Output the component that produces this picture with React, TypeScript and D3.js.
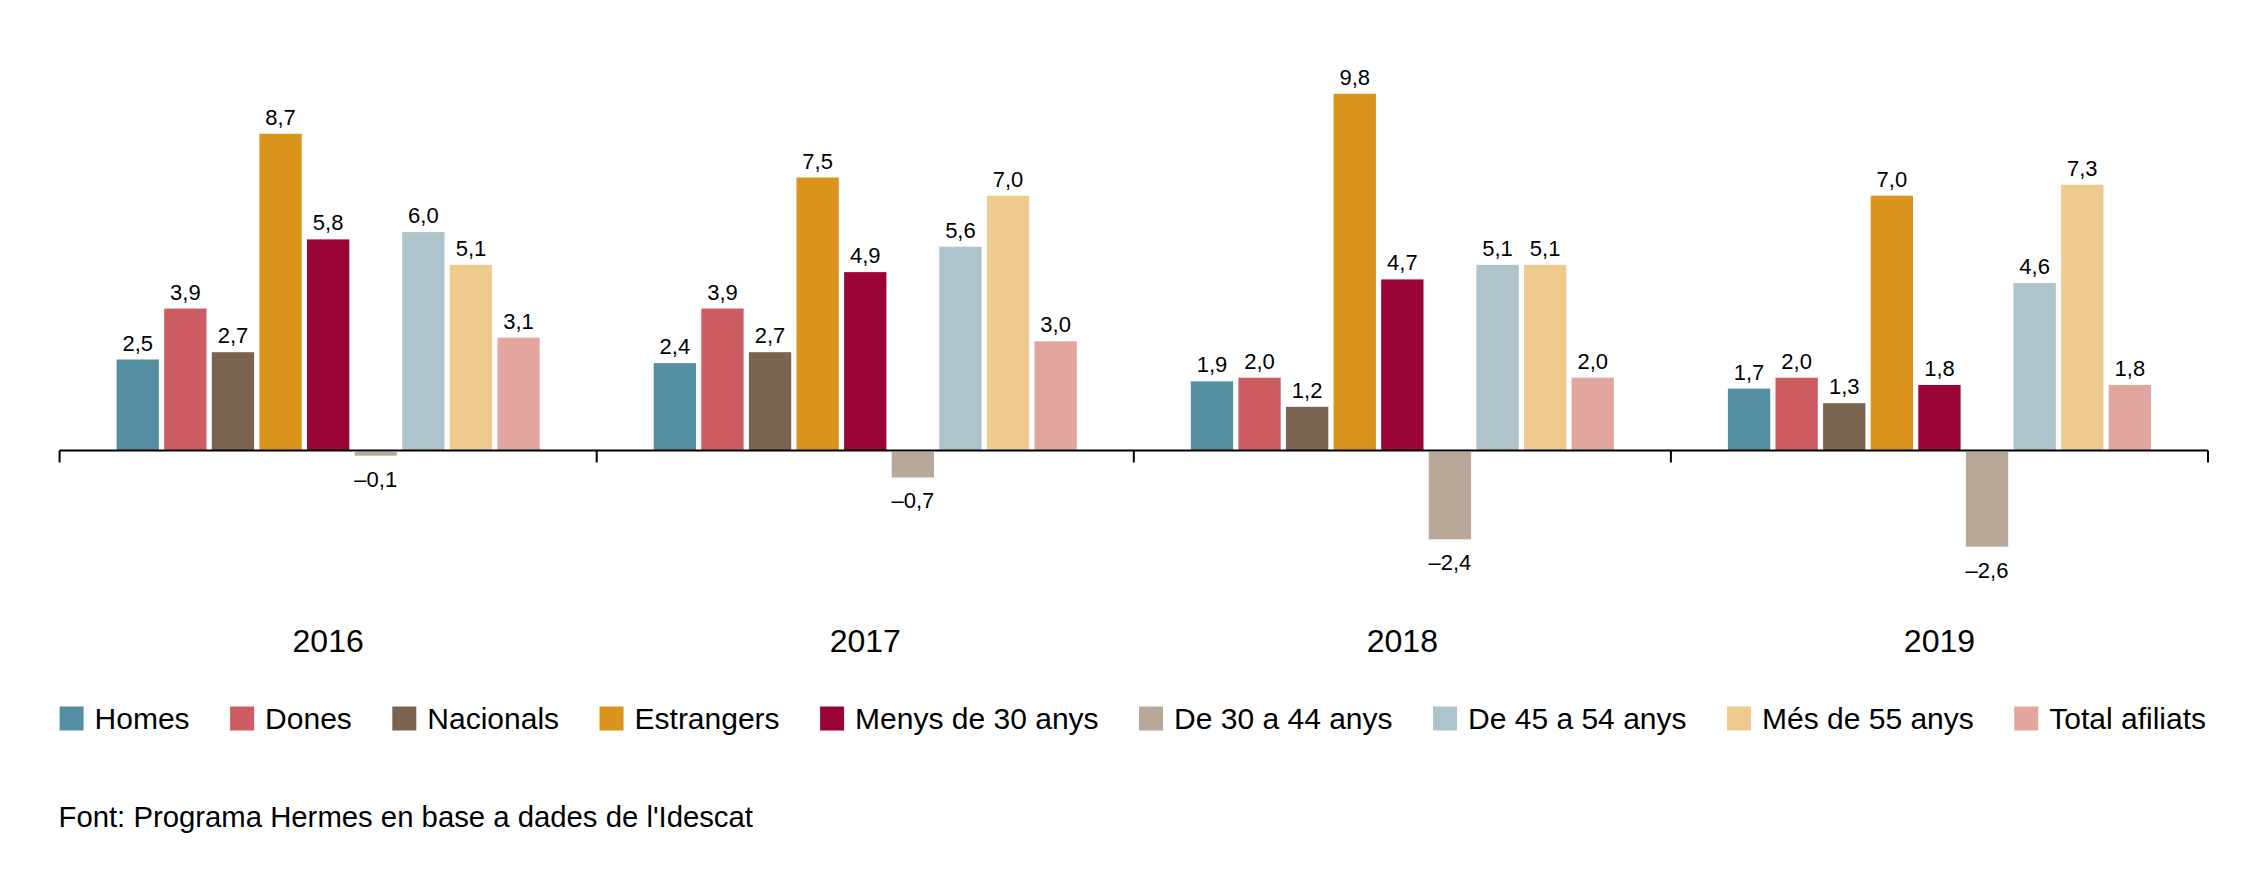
import React from "react";
import * as d3 from "d3";

const years = ["2016", "2017", "2018", "2019"];
const seriesNames = [
  "Homes",
  "Dones",
  "Nacionals",
  "Estrangers",
  "Menys de 30 anys",
  "De 30 a 44 anys",
  "De 45 a 54 anys",
  "Més de 55 anys",
  "Total afiliats",
];
const seriesColors = [
  "#548ea3",
  "#cd5c62",
  "#7a6450",
  "#da931b",
  "#9a0338",
  "#b8a898",
  "#afc3cc",
  "#efca8f",
  "#e2a69f",
];
const values2016 = [2.5, 3.9, 2.7, 8.7, 5.8, -0.1, 6.0, 5.1, 3.1];
const values2017 = [2.4, 3.9, 2.7, 7.5, 4.9, -0.7, 5.6, 7.0, 3.0];
const values2018 = [1.9, 2.0, 1.2, 9.8, 4.7, -2.4, 5.1, 5.1, 2.0];
const values2019 = [1.7, 2.0, 1.3, 7.0, 1.8, -2.6, 4.6, 7.3, 1.8];
const valuesByYear = [values2016, values2017, values2018, values2019];
const sourceText = "Font: Programa Hermes en base a dades de l'Idescat";

const W = 2268;
const H = 892;
const FONT = "'Liberation Sans', Arial, Helvetica, sans-serif";

const locale = d3.formatLocale({
  decimal: ",",
  thousands: ".",
  grouping: [3],
  currency: ["", "€"],
  minus: "\u2013",
});
const fmt = locale.format(".1f");

function measure(text: string, size: number): number {
  const c = document.createElement("canvas");
  const ctx = c.getContext("2d");
  if (!ctx) return text.length * size * 0.55;
  ctx.font = `${size}px 'Liberation Sans', Arial, sans-serif`;
  return ctx.measureText(text).width;
}

export default function App() {
  const axisLeft = 59.6;
  const axisRight = 2208;
  const zeroY = 450.5;
  const unit = 36.4;

  const x0 = d3.scaleBand<string>().domain(years).range([axisLeft, axisRight]).padding(0);
  const groupPad = 57;
  const x1 = d3
    .scaleBand<number>()
    .domain(d3.range(seriesNames.length))
    .range([groupPad, x0.bandwidth() - groupPad])
    .paddingInner(0.111)
    .paddingOuter(0);
  const yMin = -2.6;
  const yMax = 9.8;
  const y = d3
    .scaleLinear()
    .domain([yMin, yMax])
    .range([zeroY - yMin * unit, zeroY - yMax * unit]);

  const tickXs = [...years.map((yr) => x0(yr) as number), axisRight];

  // legend layout (justified across axis width)
  const legendSize = 30;
  const sq = 24;
  const textOff = 35;
  const widths = seriesNames.map((n) => textOff + measure(n, legendSize));
  const totalW = axisRight - 2 - axisLeft;
  const gap = (totalW - d3.sum(widths)) / (seriesNames.length - 1);
  const legendX: number[] = [];
  let acc = axisLeft;
  widths.forEach((w) => {
    legendX.push(acc);
    acc += w + gap;
  });

  return (
    <div style={{ position: "absolute", left: 0, top: 0 }}>
      <svg width={W} height={H} style={{ display: "block", background: "#fff" }} fontFamily={FONT}>
        {years.map((yr, gi) => (
          <g key={yr} transform={`translate(${x0(yr)},0)`}>
            {valuesByYear[gi].map((v, si) => {
              const bx = x1(si) as number;
              const bw = x1.bandwidth();
              const top = v >= 0 ? y(v) : zeroY + 1.5;
              const bot = v >= 0 ? zeroY : y(v) + 1.5;
              return (
                <g key={si}>
                  <rect x={bx} y={top} width={bw} height={Math.max(0, bot - top)} fill={seriesColors[si]} />
                  <text
                    x={bx + bw / 2}
                    y={v >= 0 ? top - 9 : bot + 31}
                    textAnchor="middle"
                    fontSize={22}
                    fill="#000"
                  >
                    {fmt(v)}
                  </text>
                </g>
              );
            })}
            <text x={x0.bandwidth() / 2} y={651.5} textAnchor="middle" fontSize={32} fill="#000">
              {yr}
            </text>
          </g>
        ))}
        <line x1={axisLeft} x2={axisRight} y1={zeroY} y2={zeroY} stroke="#000" strokeWidth={2} />
        {tickXs.map((tx, i) => (
          <line key={i} x1={tx} x2={tx} y1={zeroY} y2={zeroY + 12} stroke="#000" strokeWidth={2} />
        ))}
        {seriesNames.map((n, i) => (
          <g key={n} transform={`translate(${legendX[i]},0)`}>
            <rect x={0} y={706.5} width={sq} height={sq} fill={seriesColors[i]} />
            <text x={textOff} y={729} fontSize={legendSize} fill="#000">
              {n}
            </text>
          </g>
        ))}
        <text x={58.5} y={826.5} fontSize={29.3} fill="#000">
          {sourceText}
        </text>
      </svg>
    </div>
  );
}
